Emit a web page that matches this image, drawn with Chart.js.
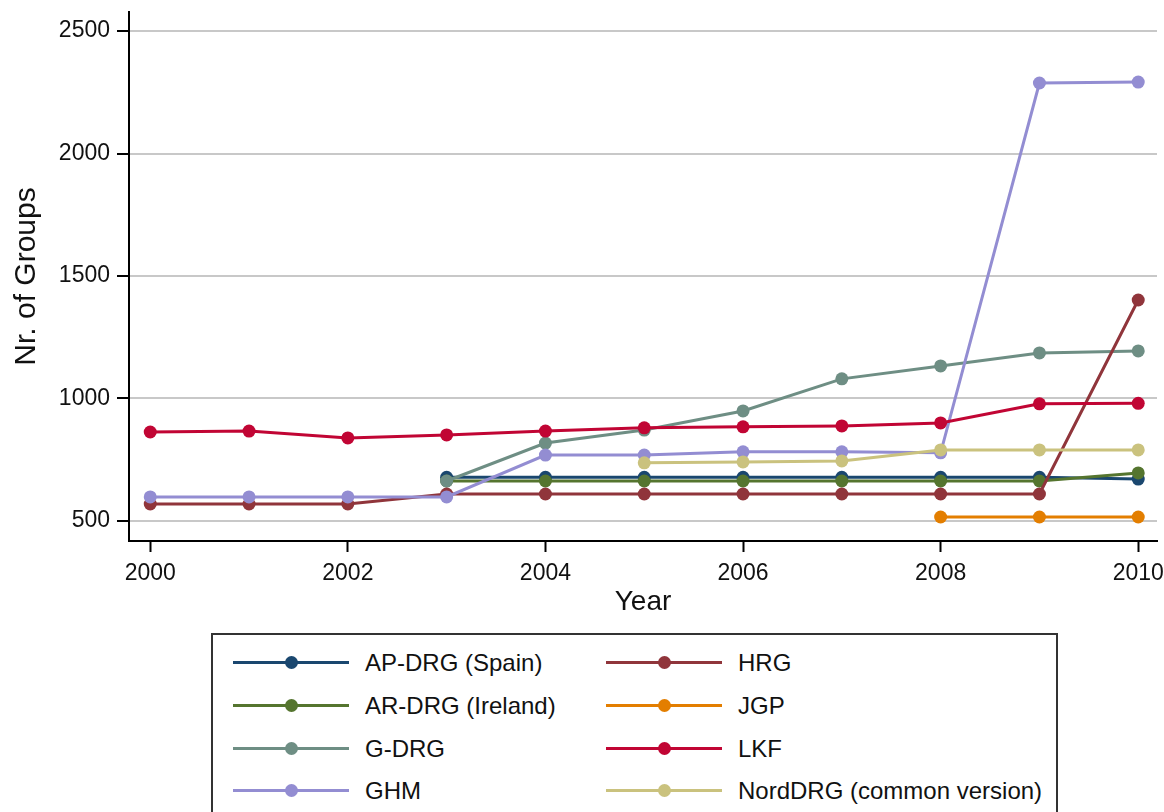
<!DOCTYPE html>
<html>
<head>
<meta charset="utf-8">
<script src="https://cdn.jsdelivr.net/npm/chart.js@4"></script>
<style>
  body { margin: 0; background: #fff; font-family: "Liberation Sans", Arial, sans-serif; }
  #wrap { position: relative; width: 1164px; height: 812px; overflow: hidden; }
  #chartBox { position: absolute; left: 0; top: 0; width: 1164px; height: 616px; }
  #legend {
    position: absolute; left: 211px; top: 633px; width: 847px; height: 200px;
    border: 2px solid #333; box-sizing: border-box;
  }
  .item { position: absolute; height: 20px; display: flex; align-items: center; font-size: 24px; color: #111; }
  .swatch { position: relative; width: 116px; height: 20px; margin-right: 16px; }
  .swatch .ln { position: absolute; left: 0; right: 0; top: 8px; height: 3px; }
  .swatch .dt { position: absolute; left: 52px; top: 3px; width: 13px; height: 13px; border-radius: 50%; }
</style>
</head>
<body>
<div id="wrap">
  <div id="chartBox"><canvas id="groupsChart"></canvas></div>
  <div id="legend"></div>
</div>
<script>
const years = [2000, 2001, 2002, 2003, 2004, 2005, 2006, 2007, 2008, 2009, 2010];
const xTicks = [2000, 2002, 2004, 2006, 2008, 2010];
const yTicks = [500, 1000, 1500, 2000, 2500];

const apDrg = [null, null, null, 678, 678, 678, 678, 678, 678, 678, 671];
const arDrg = [null, null, null, 663, 663, 663, 663, 663, 663, 663, 696];
const gDrg = [null, null, null, 663, 818, 871, 949, 1080, 1133, 1186, 1194];
const ghm = [598, 598, 598, 598, 769, 769, 782, 782, 778, 2288, 2292];
const hrg = [569, 569, 569, 610, 610, 610, 610, 610, 610, 610, 1402];
const jgp = [null, null, null, null, null, null, null, null, 516, 516, 516];
const lkf = [863, 867, 839, 851, 867, 880, 884, 888, 900, 978, 980];
const nordDrg = [null, null, null, null, null, 737, 741, 745, 790, 790, 790];

// legend order (two columns), colours, and drawing order (higher = underneath)
const series = [
  { label: "AP-DRG (Spain)", data: apDrg, color: "#1a476f", order: 8 },
  { label: "AR-DRG (Ireland)", data: arDrg, color: "#55752f", order: 7 },
  { label: "G-DRG", data: gDrg, color: "#6e8e84", order: 6 },
  { label: "GHM", data: ghm, color: "#938dd2", order: 4 },
  { label: "HRG", data: hrg, color: "#90353b", order: 5 },
  { label: "JGP", data: jgp, color: "#e37e00", order: 3 },
  { label: "LKF", data: lkf, color: "#c10534", order: 2 },
  { label: "NordDRG (common version)", data: nordDrg, color: "#cac27e", order: 1 }
];

const datasets = series.map((s) => ({
  label: s.label,
  data: years.map((y, i) => ({ x: y, y: s.data[i] })).filter((p) => p.y !== null),
  borderColor: s.color,
  backgroundColor: s.color,
  pointBackgroundColor: s.color,
  pointBorderColor: s.color,
  borderWidth: 3,
  pointRadius: 6.5,
  pointBorderWidth: 0,
  tension: 0,
  order: s.order
}));

const fontFam = "Liberation Sans, Arial, sans-serif";

new Chart(document.getElementById("groupsChart"), {
  type: "line",
  data: { datasets },
  options: {
    responsive: true,
    maintainAspectRatio: false,
    animation: false,
    layout: { padding: { top: 12, right: 7, bottom: 0, left: 0 } },
    plugins: {
      legend: { display: false },
      tooltip: { enabled: false }
    },
    scales: {
      x: {
        type: "linear",
        min: 1999.785,
        max: 2010.19,
        afterBuildTicks: (axis) => { axis.ticks = xTicks.map((v) => ({ value: v })); },
        afterFit: (axis) => { axis.height = 75; axis.paddingLeft = 0; axis.paddingRight = 0; },
        ticks: { color: "#111", font: { size: 23, family: fontFam, lineHeight: 1 }, padding: 10, callback: (v) => String(v) },
        grid: { drawOnChartArea: false, drawTicks: true, tickLength: 11, tickColor: "#000", tickWidth: 2 },
        border: { color: "#000", width: 2 },
        title: { display: true, text: "Year", color: "#111", font: { size: 28, family: fontFam, lineHeight: 1 }, padding: { top: 0, bottom: 0 } }
      },
      y: {
        min: 418,
        max: 2578,
        afterBuildTicks: (axis) => { axis.ticks = yTicks.map((v) => ({ value: v })); },
        afterFit: (axis) => { axis.width = 129; axis.paddingTop = 0; axis.paddingBottom = 0; },
        ticks: { color: "#111", font: { size: 23, family: fontFam, lineHeight: 1 }, padding: 7, callback: (v) => String(v) },
        grid: { color: "#c8c8c8", lineWidth: 2, drawTicks: true, tickLength: 12, tickColor: "#000", tickWidth: 2 },
        border: { color: "#000", width: 2 },
        title: { display: true, text: "Nr. of Groups", color: "#111", font: { size: 30, family: fontFam }, padding: { top: 9, bottom: 0 } }
      }
    }
  }
});

// legend in two columns
const legend = document.getElementById("legend");
const colX = [20, 393];
const rowY = [18, 61, 104, 146];
series.forEach((s, i) => {
  const item = document.createElement("div");
  item.className = "item";
  item.style.left = colX[Math.floor(i / 4)] + "px";
  item.style.top = rowY[i % 4] + "px";
  item.innerHTML =
    '<div class="swatch"><div class="ln" style="background:' + s.color + '"></div>' +
    '<div class="dt" style="background:' + s.color + '"></div></div><span>' + s.label + "</span>";
  legend.appendChild(item);
});
</script>
</body>
</html>
